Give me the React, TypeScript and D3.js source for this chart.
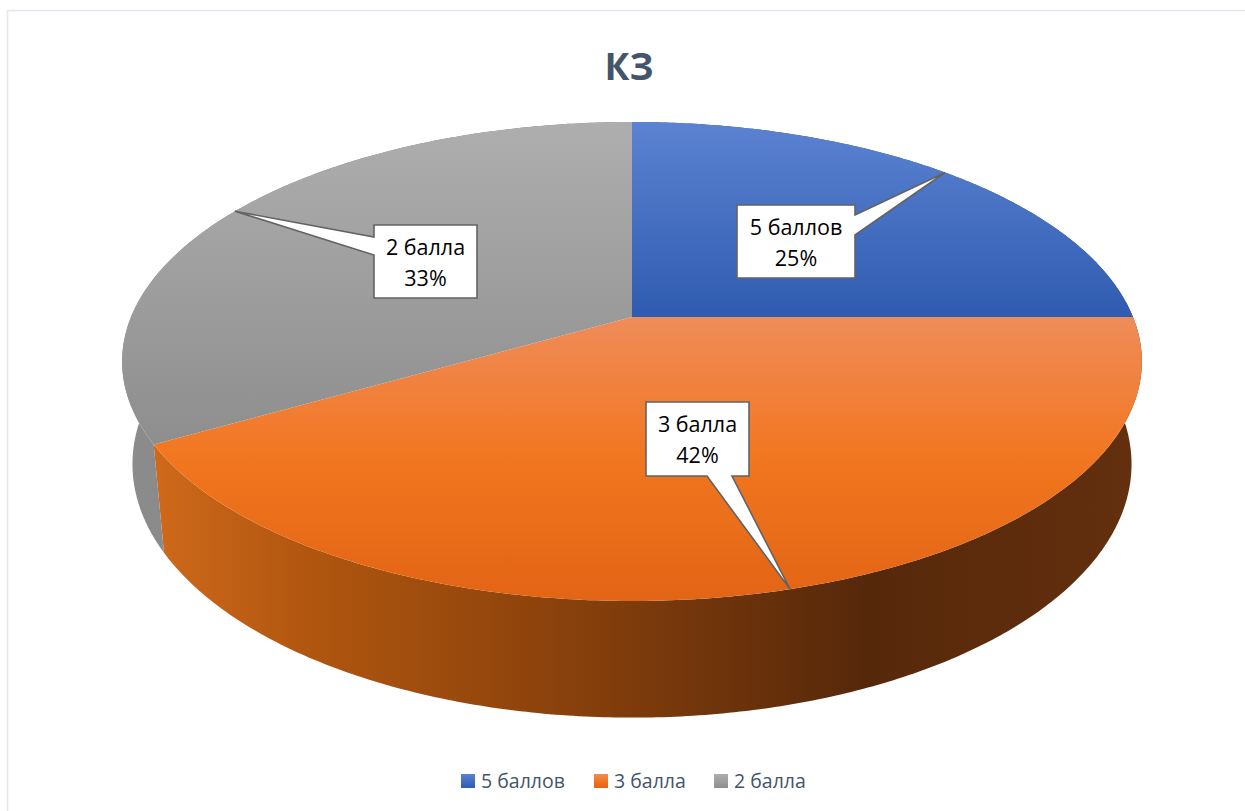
import React from "react";
import * as d3 from "d3";

const categories = ["5 баллов", "3 балла", "2 балла"];
const seriesValues = [3, 5, 4];
const chartTitle = "КЗ";
const topColors = [
  ["#5c83d2", "#2f5bb0"],
  ["#ef8c5a", "#f2761f", "#e26415"],
  ["#aeaeae", "#8e8e8e"],
];
const sideColors = [
  [["#2a4f98", "#2a4f98"]],
  [["#cf691b", 0], ["#b0560f", 0.16], ["#8f440c", 0.38], ["#56280a", 0.72], ["#64300e", 1]],
  [["#8c8c8c", 0], ["#7a7a7a", 1]],
];
const legendSwatchX = [461, 594, 714];
const legendTextX = [481, 614, 734];
const calloutBoxes = [
  { x: 737, y: 205, w: 118, h: 73, base: [[855, 215], [855, 235]] },
  { x: 646, y: 402, w: 103, h: 74, base: [[707, 476], [732, 476]] },
  { x: 374, y: 225, w: 103, h: 73, base: [[374, 237], [374, 255]] },
];

// Perspective projection of the pie disc
const CX = 632, CY = 317, A = 501, B = 231.2, P = 0.1858;
const CH = 103, QH = 0.02;
const project = (t: number, depth: number): [number, number] => {
  const u = Math.sin(t), v = Math.cos(t);
  const w = 1 + P * v + QH * depth;
  return [CX + (A * u) / w, CY + (-B * v + CH * depth) / w];
};
const arcPts = (a: number, b: number, depth: number) => {
  const n = Math.max(2, Math.ceil(Math.abs(b - a) / 0.01));
  return d3.range(n + 1).map((i) => project(a + ((b - a) * i) / n, depth));
};

const pie = d3.pie<number>().sort(null).startAngle(0).endAngle(2 * Math.PI);
const line = d3.line<[number, number]>();
const total = d3.sum(seriesValues);
const font = "'Open Sans', sans-serif";

export default function App() {
  const arcs = pie(seriesValues);
  return (
    <svg
      width={1245}
      height={811}
      style={{ position: "absolute", left: 0, top: 0, background: "#fff" }}
    >
      <defs>
        {arcs.map((d, i) => (
          <linearGradient key={i} id={`top${i}`} x1="0" x2="0" y1="0" y2="1">
            {topColors[i].map((c, j) => (
              <stop key={j} offset={j / (topColors[i].length - 1)} stopColor={c} />
            ))}
          </linearGradient>
        ))}
        {arcs.map((d, i) => (
          <linearGradient key={i} id={`side${i}`} x1="0" x2="1" y1="0" y2="0">
            {sideColors[i].map((s, j) => (
              <stop key={j} offset={typeof s[1] === "number" ? s[1] : j} stopColor={s[0] as string} />
            ))}
          </linearGradient>
        ))}
      </defs>

      <path d="M7.5 811V10.5H1245" fill="none" stroke="#e4e7ef" strokeWidth={1.5} />

      <text x={629} y={80} textAnchor="middle" fontFamily={font} fontWeight={700} fontSize={37} fill="#44546a">
        {chartTitle}
      </text>

      {arcs.map((d, i) => {
        const pts = [...arcPts(d.startAngle, d.endAngle, 0), ...arcPts(d.endAngle, d.startAngle, 1)];
        return <path key={i} d={line(pts) + "Z"} fill={`url(#side${i})`} />;
      })}
      {arcs.map((d, i) => {
        const pts = [[CX, CY] as [number, number], ...arcPts(d.startAngle, d.endAngle, 0)];
        return <path key={i} d={line(pts) + "Z"} fill={`url(#top${i})`} />;
      })}

      {arcs.map((d, i) => {
        const b = calloutBoxes[i];
        const tip = project((d.startAngle + d.endAngle) / 2, 0);
        const [p, q] = b.base;
        const corners: [number, number][] = [[b.x, b.y], [b.x + b.w, b.y], [b.x + b.w, b.y + b.h], [b.x, b.y + b.h]];
        let outline: [number, number][];
        if (p[0] === b.x + b.w) outline = [corners[0], corners[1], p as any, tip, q as any, corners[2], corners[3]];
        else if (p[1] === b.y + b.h) outline = [corners[0], corners[1], corners[2], q as any, tip, p as any, corners[3]];
        else outline = [corners[0], corners[1], corners[2], corners[3], q as any, tip, p as any];
        const cx = b.x + b.w / 2;
        return (
          <g key={i}>
            <path d={line(outline) + "Z"} fill="#fff" stroke="#636363" strokeWidth={1.6} strokeLinejoin="miter" />
            <text x={cx} y={b.y + 30} textAnchor="middle" fontFamily={font} fontSize={21.5} fill="#000">
              {categories[i]}
            </text>
            <text x={cx} y={b.y + 61} textAnchor="middle" fontFamily={font} fontSize={21.5} fill="#000">
              {d3.format(".0%")(d.value / total)}
            </text>
          </g>
        );
      })}

      {categories.map((c, i) => (
        <g key={c}>
          <rect x={legendSwatchX[i]} y={774} width={14} height={14} fill={`url(#top${i})`} />
          <text x={legendTextX[i]} y={788} fontFamily={font} fontSize={19.5} fill="#44546a">
            {c}
          </text>
        </g>
      ))}
    </svg>
  );
}
